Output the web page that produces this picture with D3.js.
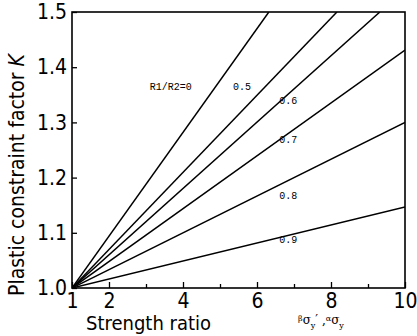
<!DOCTYPE html>
<html><head><meta charset="utf-8">
<script src="https://cdn.jsdelivr.net/npm/d3@7/dist/d3.min.js"></script>
<style>body{margin:0;background:#fff}svg{display:block}</style>
</head><body><svg id="c" width="417" height="336"></svg>
<script>
// Data
const ratios = ["0", "0.5", "0.6", "0.7", "0.8", "0.9"];
const seriesX = [[1, 6.32], [1, 8.16], [1, 9.32], [1, 10], [1, 10], [1, 10]];
const seriesK = [[1.0, 1.5], [1.0, 1.5], [1.0, 1.5], [1.0, 1.431], [1.0, 1.300], [1.0, 1.147]];
const labelText = ["R1/R2=0", "0.5", "0.6", "0.7", "0.8", "0.9"];
const labelX = [3.1, 5.35, 6.6, 6.6, 6.6, 6.6];
const labelK = [1.358, 1.358, 1.333, 1.262, 1.161, 1.082];
const xTicks = [1, 2, 4, 6, 8, 10];
const xMinor = [3, 5, 7, 9];
const yTicks = [1.0, 1.1, 1.2, 1.3, 1.4, 1.5];

const svg = d3.select("#c");
const L = 72, R = 405, T = 12, B = 288;
const x = d3.scaleLinear().domain([1, 10]).range([L, R]);
const y = d3.scaleLinear().domain([1.0, 1.5]).range([B, T]);
const tickFont = "'Liberation Sans Narrow','DejaVu Sans Condensed',sans-serif";

// frame
svg.append("rect").attr("x", L).attr("y", T).attr("width", R - L).attr("height", B - T)
  .attr("fill", "none").attr("stroke", "#000").attr("stroke-width", 1.6);

// axes
const xAxis = d3.axisBottom(x).tickValues(xTicks).tickSize(-6).tickFormat(d3.format("d")).tickPadding(5);
const gx = svg.append("g").attr("transform", `translate(0,${B})`).call(xAxis);
gx.select(".domain").remove();
gx.selectAll("line").attr("stroke-width", 1.3);
gx.selectAll("text").attr("font-family", tickFont).attr("font-size", 21).attr("fill", "#000");
const gxm = svg.append("g").attr("transform", `translate(0,${B})`)
  .call(d3.axisBottom(x).tickValues(xMinor).tickSize(-4).tickFormat(""));
gxm.select(".domain").remove();
gxm.selectAll("line").attr("stroke-width", 1.3);

const yAxis = d3.axisLeft(y).tickValues(yTicks).tickSize(-5).tickFormat(d3.format(".1f")).tickPadding(5);
const gy = svg.append("g").attr("transform", `translate(${L},0)`).call(yAxis);
gy.select(".domain").remove();
gy.selectAll("line").attr("stroke-width", 1.3);
gy.selectAll("text").attr("font-family", tickFont).attr("font-size", 21).attr("fill", "#000");

// lines
svg.append("clipPath").attr("id", "clip").append("rect")
  .attr("x", L).attr("y", T).attr("width", R - L).attr("height", B - T);
const line = d3.line().x(d => x(d[0])).y(d => y(d[1]));
ratios.forEach((r, i) => {
  const pts = seriesX[i].map((v, j) => [v, seriesK[i][j]]);
  svg.append("path").attr("d", line(pts)).attr("fill", "none")
    .attr("stroke", "#000").attr("stroke-width", 1.5).attr("clip-path", "url(#clip)");
});

// curve labels
labelText.forEach((t, i) => {
  svg.append("text").attr("x", x(labelX[i])).attr("y", y(labelK[i]))
    .attr("font-family", "'Liberation Mono','DejaVu Sans Mono',monospace")
    .attr("font-size", 10).attr("fill", "#000").text(t);
});

// axis titles
svg.append("text").attr("transform", `translate(24,296) rotate(-90)`)
  .attr("font-family", tickFont).attr("font-size", 21).attr("fill", "#000")
  .text("Plastic constraint factor ")
  .append("tspan").attr("font-style", "italic").text("K");
svg.append("text").attr("x", 86).attr("y", 330)
  .attr("font-family", tickFont).attr("font-size", 20).attr("fill", "#000")
  .text("Strength ratio");
const sub = svg.append("text").attr("x", 298).attr("y", 324)
  .attr("font-family", "'DejaVu Serif',serif").attr("font-size", 12).attr("fill", "#000");
sub.append("tspan").attr("font-size", 8).attr("dy", -3).text("β");
sub.append("tspan").attr("dy", 3).text("σ");
sub.append("tspan").attr("font-size", 8).attr("dy", 4).text("y");
sub.append("tspan").attr("dy", -4).text("′ ,");
sub.append("tspan").attr("font-size", 8).attr("dy", -3).text("α");
sub.append("tspan").attr("dy", 3).text("σ");
sub.append("tspan").attr("font-size", 8).attr("dy", 4).text("y");
</script></body></html>
